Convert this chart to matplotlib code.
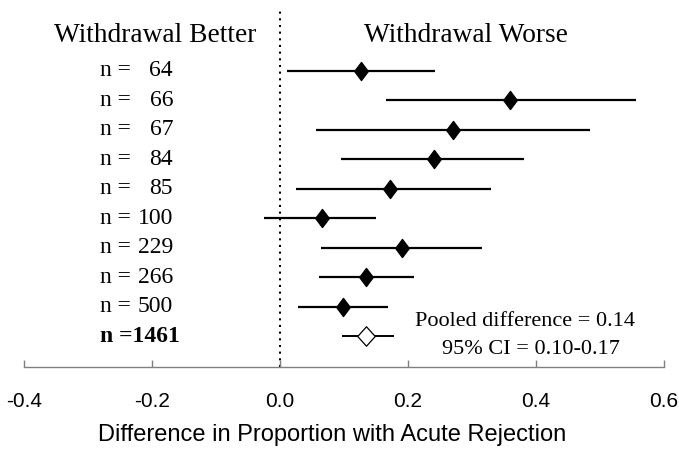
import matplotlib
matplotlib.use('Agg')
import matplotlib.pyplot as plt
from matplotlib.path import Path

# ---- data ----
study_n = ["64", "66", "67", "84", "85", "100", "229", "266", "500"]
study_diff = [0.127, 0.359, 0.271, 0.241, 0.172, 0.065, 0.190, 0.135, 0.098]
study_lo = [0.011, 0.166, 0.056, 0.096, 0.025, -0.025, 0.064, 0.061, 0.028]
study_hi = [0.242, 0.556, 0.484, 0.381, 0.330, 0.150, 0.316, 0.209, 0.169]
pooled_n = "1461"
pooled_diff = 0.135
pooled_lo = 0.097
pooled_hi = 0.178
xticks = [-0.4, -0.2, 0.0, 0.2, 0.4, 0.6]
xtick_labels = ["-0.4", "-0.2", "0.0", "0.2", "0.4", "0.6"]

SERIF = ["Liberation Serif", "DejaVu Serif"]
SANS = ["Liberation Sans", "DejaVu Sans"]

W, H = 679, 454
fig = plt.figure(figsize=(W / 100, H / 100), dpi=100)
ax = fig.add_axes([24 / W, 1 - 367 / H, 640 / W, 357 / H])

n_rows = len(study_n) + 1
ypos = [n_rows - 1 - i for i in range(len(study_n))]
ypool = 0

filled = Path([(0, 1), (0.75, 0), (0, -1), (-0.75, 0), (0, 1)],
              [Path.MOVETO, Path.LINETO, Path.LINETO, Path.LINETO, Path.CLOSEPOLY])
openm = Path([(0, 1), (0.9, 0), (0, -1), (-0.9, 0), (0, 1)],
             [Path.MOVETO, Path.LINETO, Path.LINETO, Path.LINETO, Path.CLOSEPOLY])

for y, d, lo, hi in zip(ypos, study_diff, study_lo, study_hi):
    ax.plot([lo, hi], [y, y], color='black', lw=1.6, solid_capstyle='butt', zorder=2)
    ax.plot([d], [y], marker=filled, markersize=13, color='black', zorder=3)

ax.plot([pooled_lo, pooled_hi], [ypool, ypool], color='black', lw=1.4,
        solid_capstyle='butt', zorder=2)
ax.plot([pooled_diff], [ypool], marker=openm, markersize=14, markerfacecolor='white',
        markeredgecolor='black', markeredgewidth=0.9, zorder=3)

ax.axvline(0, color='black', lw=1.5, ls=(0, (1, 2.2)), zorder=1)

ax.set_xlim(-0.4, 0.6)
ax.set_ylim(-1.05, 11.07)

# labels
for y, n in zip(ypos, study_n):
    ax.text(-0.281, y, "n =", ha='left', va='center', fontsize=17, family=SERIF)
    ax.text(-0.167, y, n, ha='right', va='center', fontsize=17, family=SERIF)
ax.text(-0.281, ypool, "n =" + pooled_n, ha='left', va='center', fontsize=17,
        family=SERIF, fontweight='bold')

ax.text(-0.195, 10.2, "Withdrawal Better", ha='center', va='center', fontsize=19.7, family=SERIF)
ax.text(0.29, 10.2, "Withdrawal Worse", ha='center', va='center', fontsize=19.7, family=SERIF)

ax.text(0.383, 0.5, "Pooled difference = %.2f" % 0.14, ha='center', va='center',
        fontsize=16, family=SERIF)
ax.text(0.392, -0.45, "95% CI = 0.10-0.17", ha='center', va='center',
        fontsize=16, family=SERIF)

for s in ['left', 'top', 'right']:
    ax.spines[s].set_visible(False)
ax.spines['bottom'].set_color('#808080')
ax.spines['bottom'].set_linewidth(1.0)
ax.set_yticks([])
ax.set_xticks(xticks)
ax.set_xticklabels(xtick_labels, family=SANS, fontsize=15)
ax.tick_params(axis='x', direction='in', length=5, width=1, color='#808080', pad=18)
ax.set_xlabel("Difference in Proportion with Acute Rejection", family=SANS, fontsize=17,
              labelpad=9)
ax.xaxis.label.set_x((332 - 24) / 640)

fig.savefig("out.png", dpi=100)
